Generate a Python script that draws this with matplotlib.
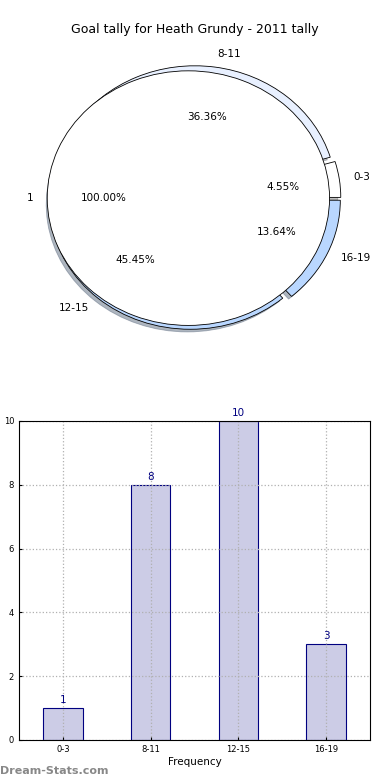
import matplotlib
matplotlib.use('Agg')
import matplotlib.pyplot as plt

# Data
CATEGORIES = ['0-3', '8-11', '12-15', '16-19']
TALLY = [1, 8, 10, 3]
TOTAL_LABEL = ['1']
TOTAL_VALUE = [1]
TITLE = 'Goal tally for Heath Grundy - 2011 tally'

# Styles
PIE_COLOURS = ['#ffffff', '#e8f0ff', '#b9d7ff', '#b9d7ff']
BAR_FACE = '#ccccE6'
BAR_EDGE = '#000080'

fig = plt.figure(figsize=(3.9, 7.8), dpi=100)

# Pie chart (ring of categories with a single full wedge on top)
ax1 = fig.add_axes([0.027, 0.542, 0.941, 0.408])
ax1.pie(TALLY, labels=CATEGORIES, colors=PIE_COLOURS, autopct='%.2f%%',
        startangle=0, explode=[0.04] * len(TALLY),
        shadow={'ox': -0.015, 'oy': -0.015, 'shade': 0.5},
        labeldistance=1.1, pctdistance=0.6,
        wedgeprops={'edgecolor': 'black', 'linewidth': 0.6},
        textprops={'fontsize': 7.5})
ax1.pie(TOTAL_VALUE, labels=TOTAL_LABEL, colors=['white'], autopct='%.2f%%',
        startangle=0, explode=[0.04], labeldistance=1.1, pctdistance=0.6,
        wedgeprops={'edgecolor': 'black', 'linewidth': 0.6},
        textprops={'fontsize': 7.5})
ax1.set_aspect('auto')
ax1.set_xlim(-1.3, 1.3)
ax1.set_ylim(-1.25, 1.25)
fig.text(0.5, 1 - 30 / 780, TITLE, ha='center', va='center', fontsize=9)

# Bar chart
ax2 = fig.add_axes([0.0487, 0.0513, 0.9, 0.409])
x = range(len(CATEGORIES))
bars = ax2.bar(x, TALLY, width=0.45, color=BAR_FACE, edgecolor=BAR_EDGE,
               linewidth=0.8)
for b, v in zip(bars, TALLY):
    ax2.text(b.get_x() + b.get_width() / 2, v + 0.1, str(v), ha='center',
             va='bottom', color=BAR_EDGE, fontsize=7.5)
ax2.set_xlim(-0.5, 3.5)
ax2.set_ylim(0, 10)
ax2.set_xticks(list(x))
ax2.set_xticklabels(CATEGORIES)
ax2.set_yticks(range(0, 11, 2))
ax2.tick_params(labelsize=6, length=2, direction='in')
ax2.grid(True, linestyle=':', color='#b0b0b0', linewidth=0.9)
ax2.set_axisbelow(False)
for sp in ax2.spines.values():
    sp.set_zorder(4)
ax2.set_xlabel('Frequency', fontsize=7.5, labelpad=2)
ax2.set_ylabel('Goal tally', fontsize=7.5, labelpad=2)

fig.text(0.0, 1 - 771 / 780, 'Dream-Stats.com', ha='left', va='center',
         fontsize=8, color='#888888', fontweight='semibold')

fig.savefig('out.png', dpi=100)
